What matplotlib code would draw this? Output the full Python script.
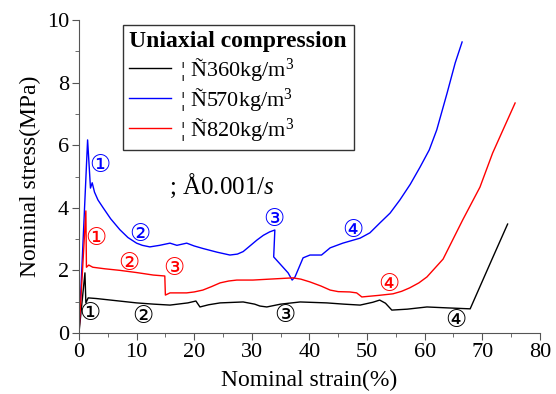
import matplotlib
matplotlib.use('Agg')
import matplotlib.pyplot as plt
from matplotlib.ticker import MultipleLocator

plt.rcParams['font.family'] = ['Liberation Serif', 'DejaVu Sans']
plt.rcParams['mathtext.fontset'] = 'custom'
plt.rcParams['mathtext.rm'] = 'Liberation Serif'
plt.rcParams['mathtext.it'] = 'Liberation Serif:italic'

# density 360 kg/m3 (black)
strain_360 = [0, 1.04, 1.2, 1.6, 3, 5, 8, 10, 13, 15.8, 18.9, 20.3, 21.0, 22.5, 24.5,
              28.5, 30.5, 31.4, 32.6, 35, 38.4, 43, 46, 48.8, 51, 52.2, 53.2, 54.3,
              57, 60.4, 64, 67.9, 71.7, 74.4]
stress_360 = [0, 1.92, 0.96, 1.12, 1.1, 1.06, 1.0, 0.96, 0.92, 0.89, 0.96, 1.02, 0.83,
              0.9, 0.96, 0.99, 0.92, 0.86, 0.83, 0.92, 0.99, 0.96, 0.92, 0.89, 0.98,
              1.05, 0.95, 0.73, 0.76, 0.83, 0.8, 0.77, 2.36, 3.48]

# density 570 kg/m3 (blue)
strain_570 = [0, 1.5, 2.0, 2.3, 2.7, 3.3, 4.2, 5.5, 7.1, 8.5, 10, 11, 12.3, 14, 15.8,
              17, 18.7, 20, 21.5, 24, 26.2, 27.5, 28.5, 29.8, 30.9, 32, 33.1, 34.0,
              33.8, 36.3, 37.0, 37.5, 38.9, 40.1, 42.1, 43.6, 45.8, 48.8, 50.5, 52.2,
              54.0, 55.7, 57.5, 59.2, 60.8, 62.1, 63.9, 65.3, 66.5]
stress_570 = [0, 6.17, 4.63, 4.8, 4.5, 4.25, 4.0, 3.65, 3.3, 3.05, 2.87, 2.8, 2.75, 2.8,
              2.87, 2.8, 2.87, 2.78, 2.7, 2.58, 2.49, 2.52, 2.6, 2.8, 2.97, 3.12, 3.23,
              3.29, 2.43, 1.92, 1.69, 1.79, 2.4, 2.49, 2.49, 2.72, 2.87, 3.03, 3.2,
              3.51, 3.83, 4.25, 4.75, 5.3, 5.85, 6.49, 7.67, 8.63, 9.3]

# density 820 kg/m3 (red)
strain_820 = [0, 1.2, 1.3, 1.7, 2.4, 4.5, 7.1, 10, 12.9, 14.9, 15.0, 15.8, 18.7, 20,
              21.5, 23, 24.5, 26, 27.4, 30.2, 33.1, 37.1, 38.5, 40.1, 42, 43.6, 45,
              47.0, 48.2, 49.1, 52, 54.5, 56, 57.4, 59, 60.4, 63.2, 66.6, 69.6, 71.8,
              73.6, 75.7]
stress_820 = [0, 3.9, 2.1, 2.17, 2.1, 2.05, 2.0, 1.93, 1.85, 1.82, 1.21, 1.28, 1.28,
              1.31, 1.37, 1.48, 1.6, 1.66, 1.69, 1.69, 1.72, 1.76, 1.72, 1.63, 1.5,
              1.37, 1.32, 1.31, 1.28, 1.15, 1.2, 1.25, 1.33, 1.44, 1.6, 1.79, 2.36,
              3.61, 4.66, 5.75, 6.49, 7.35]

# circled stage labels: (strain, stress, text)
marks_360 = [(1.9, 0.64, '①'), (11.1, 0.54, '②'), (35.7, 0.58, '③'), (65.4, 0.42, '④')]
marks_570 = [(3.6, 5.37, '①'), (10.6, 3.16, '②'), (33.8, 3.64, '③'), (47.5, 3.29, '④')]
marks_820 = [(2.95, 3.03, '①'), (8.7, 2.24, '②'), (16.5, 2.08, '③'), (53.8, 1.57, '④')]

fig = plt.figure(figsize=(5.56, 3.94), dpi=100)
ax = fig.add_axes([0.142, 0.155, 0.829, 0.794])

ax.plot(strain_360, stress_360, color='black', lw=1, label='¦ Ñ360kg/m$^3$')
ax.plot(strain_570, stress_570, color='blue', lw=1, label='¦ Ñ570kg/m$^3$')
ax.plot(strain_820, stress_820, color='red', lw=1, label='¦ Ñ820kg/m$^3$')

for marks, col in [(marks_360, 'black'), (marks_570, 'blue'), (marks_820, 'red')]:
    for x, y, t in marks:
        ax.text(x, y, t, color=col, fontsize=17, ha='center', va='center',
                family=['DejaVu Sans'])

ax.text(24.8, 4.7, '; Å0.001/$s$', fontsize=18, ha='center', va='center')

ax.set_xlim(0, 80)
ax.set_ylim(0, 10)
ax.xaxis.set_major_locator(MultipleLocator(10))
ax.xaxis.set_minor_locator(MultipleLocator(5))
ax.yaxis.set_major_locator(MultipleLocator(2))
ax.yaxis.set_minor_locator(MultipleLocator(1))
ax.tick_params(which='both', direction='out', color='#555555', labelsize=16)
ax.tick_params(which='major', length=5, pad=2)
ax.tick_params(which='minor', length=3)
for s in ['top', 'right']:
    ax.spines[s].set_visible(False)
for s in ['left', 'bottom']:
    ax.spines[s].set_color('#555555')

ax.set_xlabel('Nominal strain(%)', fontsize=17, labelpad=6)
ax.set_ylabel('Nominal stress(MPa)', fontsize=17, labelpad=4)

leg = ax.legend(loc='upper left', bbox_to_anchor=(0.085, 1.0),
                prop={'family': 'Liberation Serif', 'size': 16},
                title='Uniaxial compression',
                title_fontproperties={'family': 'Liberation Serif', 'weight': 'bold', 'size': 17},
                frameon=True, fancybox=False, edgecolor='black', handlelength=1.9,
                handletextpad=0.4, borderpad=0.3, labelspacing=0.15, borderaxespad=0.2)
leg.get_frame().set_linewidth(1.0)
leg._legend_box.align = 'left'

fig.savefig('out.png', dpi=100)
